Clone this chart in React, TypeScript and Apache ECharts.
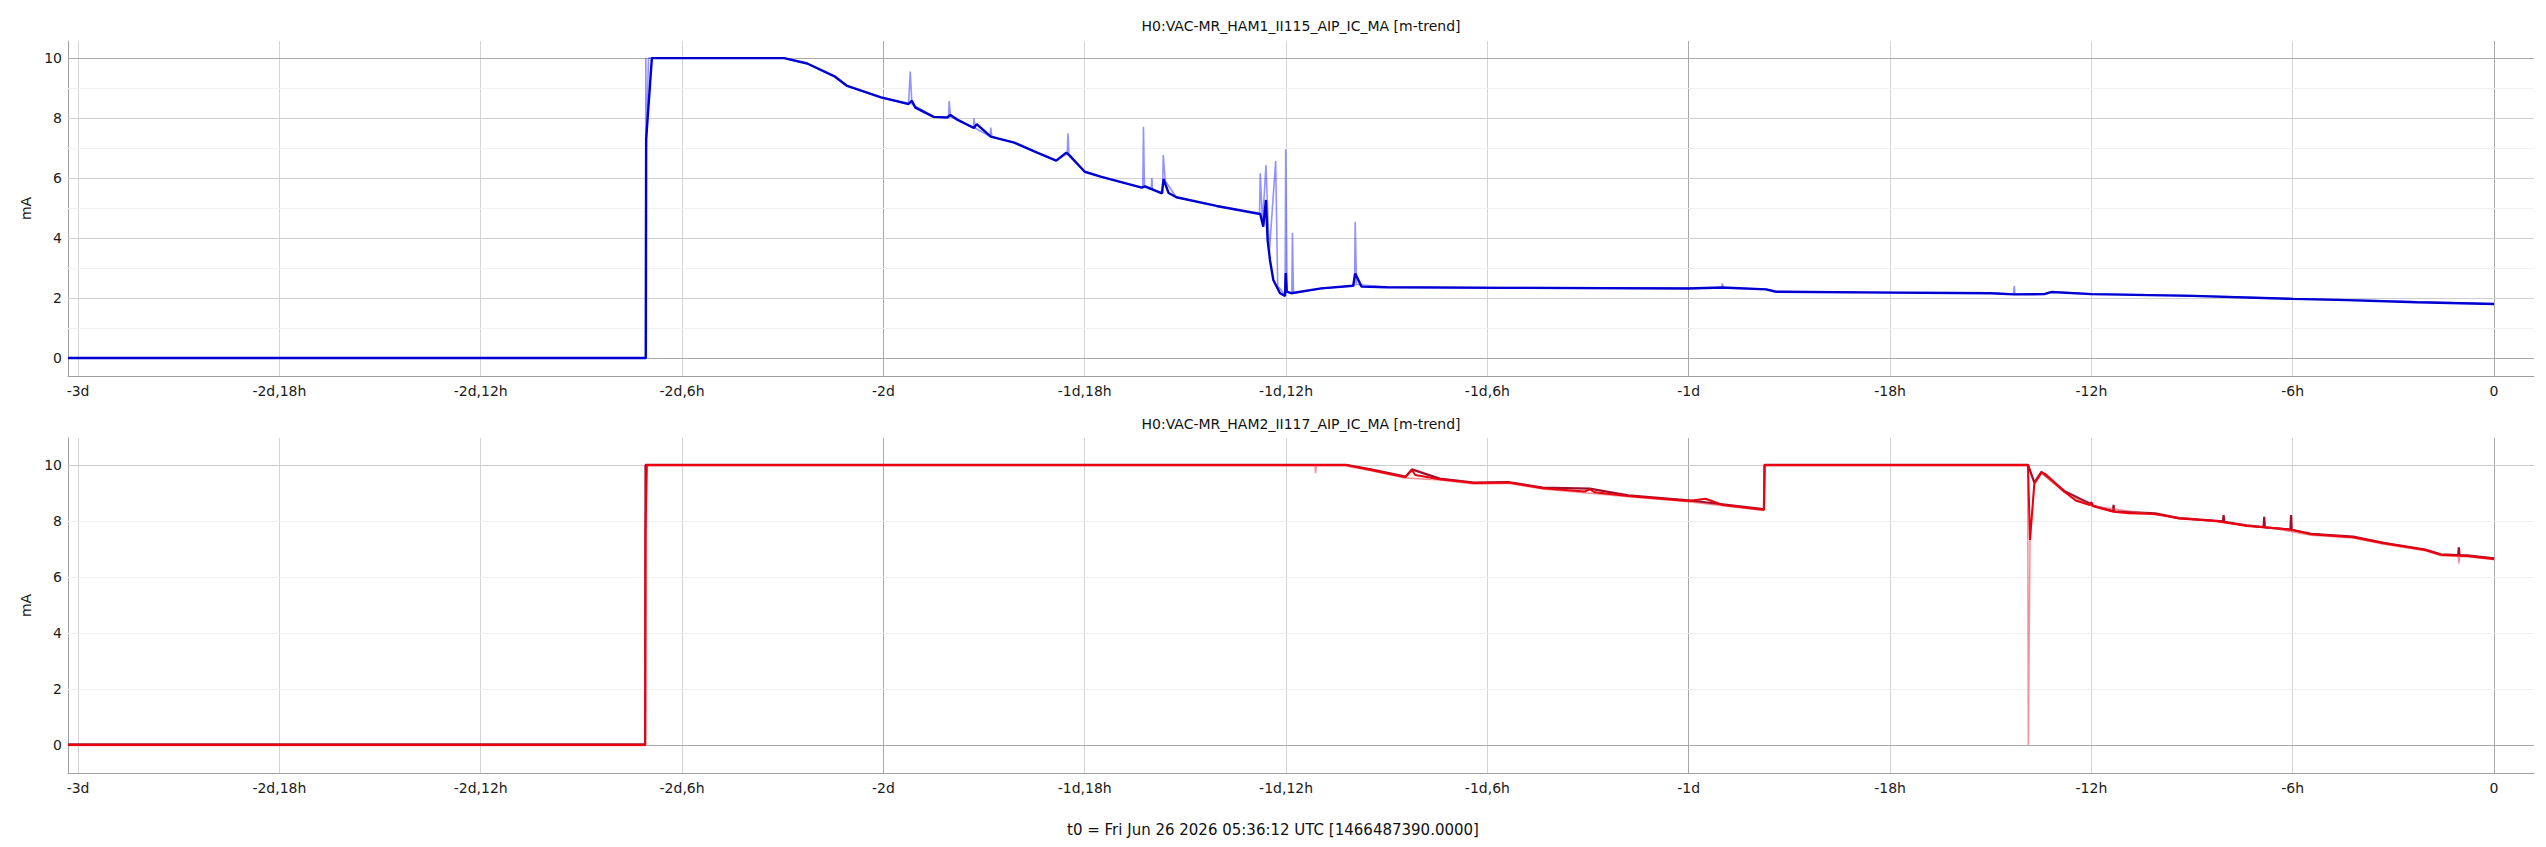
import React, { useEffect, useRef } from "react";
import * as echarts from "echarts";

// ---- data (hours relative to t0, values in mA) ----
const xTickValues = [-72, -66, -60, -54, -48, -42, -36, -30, -24, -18, -12, -6, 0];
const xTickLabels = ["-3d", "-2d,18h", "-2d,12h", "-2d,6h", "-2d", "-1d,18h", "-1d,12h", "-1d,6h", "-1d", "-18h", "-12h", "-6h", "0"];
const dayLines = [-48, -24, 0];
const yTickValues = [0, 2, 4, 6, 8, 10];

const title1 = "H0:VAC-MR_HAM1_II115_AIP_IC_MA [m-trend]";
const title2 = "H0:VAC-MR_HAM2_II117_AIP_IC_MA [m-trend]";
const footer = "t0 = Fri Jun 26 2026 05:36:12 UTC [1466487390.0000]";

const ham1Mean: [number, number][] = [
  [-72.3, 0], [-55.08, 0], [-55.07, 7.3], [-54.95, 9.2], [-54.9, 10], [-50.96, 10],
  [-50.27, 9.82], [-49.44, 9.38], [-49.08, 9.07], [-48.07, 8.69], [-47.25, 8.47],
  [-47.15, 8.58], [-47.05, 8.35], [-46.5, 8.04], [-46.1, 8.02], [-46.0, 8.1],
  [-45.8, 7.95], [-45.3, 7.67], [-45.22, 7.8], [-44.8, 7.38], [-44.1, 7.18],
  [-43.4, 6.84], [-42.85, 6.58], [-42.55, 6.85], [-42.45, 6.75], [-42.0, 6.21],
  [-41.5, 6.04], [-40.3, 5.68], [-40.2, 5.72], [-39.7, 5.49], [-39.65, 5.96],
  [-39.5, 5.5], [-39.27, 5.36], [-38.07, 5.07], [-36.77, 4.8], [-36.68, 4.38],
  [-36.6, 5.27], [-36.55, 3.93], [-36.48, 3.27], [-36.38, 2.6], [-36.18, 2.16],
  [-36.03, 2.07], [-36.01, 2.83], [-35.98, 2.21], [-35.85, 2.16], [-34.95, 2.32],
  [-34.0, 2.41], [-33.94, 2.82], [-33.75, 2.38], [-33.0, 2.36], [-29.6, 2.34],
  [-24, 2.32], [-23.0, 2.35], [-21.7, 2.29], [-21.4, 2.21], [-18, 2.18],
  [-15, 2.16], [-14.3, 2.12], [-13.4, 2.13], [-13.2, 2.2], [-12, 2.13],
  [-9, 2.07], [-6, 1.97], [-4.38, 1.93], [-2.3, 1.86], [0, 1.8],
];

const ham1Max: [number, number][] = [
  [-72.3, 0], [-55.09, 0], [-55.08, 10], [-55.07, 6.8], [-55.0, 10], [-50.96, 10],
  [-50.27, 9.82], [-49.44, 9.38], [-49.08, 9.07], [-48.07, 8.69], [-47.25, 8.47],
  [-47.2, 9.55], [-47.15, 8.47], [-46.5, 8.04], [-46.06, 8.02], [-46.04, 8.57],
  [-46.0, 8.05], [-45.32, 7.67], [-45.3, 7.99], [-45.27, 7.67], [-44.82, 7.38],
  [-44.8, 7.68], [-44.77, 7.38], [-44.1, 7.18], [-43.4, 6.84], [-42.85, 6.58],
  [-42.52, 6.82], [-42.5, 7.49], [-42.47, 6.8], [-42.0, 6.21], [-41.5, 6.04],
  [-40.27, 5.68], [-40.25, 7.71], [-40.22, 5.7], [-40.02, 5.62], [-40.0, 6.0],
  [-39.98, 5.6], [-39.68, 5.5], [-39.66, 6.77], [-39.6, 5.9], [-39.27, 5.36],
  [-38.07, 5.07], [-36.79, 4.8], [-36.77, 6.16], [-36.7, 4.5], [-36.6, 6.43],
  [-36.5, 3.5], [-36.31, 6.57], [-36.25, 2.4], [-36.03, 2.1], [-36.01, 6.96],
  [-35.97, 2.2], [-35.83, 2.16], [-35.81, 4.18], [-35.78, 2.17], [-34.95, 2.32],
  [-33.96, 2.41], [-33.94, 4.54], [-33.9, 2.45], [-33.0, 2.37], [-29.6, 2.35],
  [-24, 2.33], [-23.02, 2.33], [-23.0, 2.49], [-22.97, 2.33], [-21.7, 2.3],
  [-21.4, 2.22], [-18, 2.19], [-15, 2.17], [-14.32, 2.13], [-14.3, 2.4],
  [-14.28, 2.13], [-13.4, 2.14], [-13.2, 2.21], [-12, 2.14], [-9, 2.08],
  [-6, 1.98], [-4.38, 1.94], [-2.3, 1.87], [0, 1.81],
];

const ham2Mean: [number, number][] = [
  [-72.3, 0], [-55.1, 0], [-55.09, 7.57], [-55.05, 10], [-34.22, 10], [-33.47, 9.82],
  [-32.44, 9.56], [-32.25, 9.82], [-32.15, 9.64], [-31.42, 9.49], [-30.4, 9.35],
  [-29.38, 9.37], [-28.35, 9.17], [-27.1, 9.05], [-26.95, 9.13], [-26.8, 9.02],
  [-25.8, 8.89], [-24.01, 8.71], [-23.5, 8.79], [-22.99, 8.57], [-21.84, 8.41],
  [-21.76, 8.4], [-21.74, 10], [-13.89, 10], [-13.83, 7.32], [-13.7, 9.35],
  [-13.49, 9.73], [-13.38, 9.68], [-12.81, 9.05], [-12.47, 8.73], [-12.05, 8.57],
  [-12.0, 8.66], [-11.95, 8.52], [-11.34, 8.33], [-10.89, 8.27], [-10.1, 8.25],
  [-9.42, 8.09], [-8.28, 8.0], [-7.37, 7.82], [-6.47, 7.74], [-6.01, 7.68],
  [-5.45, 7.52], [-4.2, 7.42], [-3.29, 7.2], [-2.05, 6.96], [-1.59, 6.79],
  [-0.8, 6.75], [0, 6.64],
];

const ham2Max: [number, number][] = [
  [-72.3, 0.02], [-55.1, 0.02], [-55.09, 10], [-34.22, 10], [-33.47, 9.84],
  [-32.44, 9.58], [-32.25, 9.84], [-31.42, 9.51], [-30.4, 9.37], [-29.38, 9.39],
  [-28.35, 9.19], [-26.95, 9.15], [-25.8, 8.91], [-24.01, 8.73], [-22.99, 8.59],
  [-21.84, 8.43], [-21.76, 8.42], [-21.74, 10], [-13.89, 10], [-13.7, 9.37],
  [-13.49, 9.75], [-12.81, 9.07], [-12.02, 8.6], [-12.0, 8.67], [-11.98, 8.56],
  [-11.36, 8.35], [-11.34, 8.57], [-11.32, 8.34], [-10.1, 8.27], [-9.42, 8.11],
  [-8.08, 7.98], [-8.06, 8.21], [-8.04, 7.97], [-7.37, 7.84], [-6.87, 7.78],
  [-6.85, 8.15], [-6.83, 7.77], [-6.07, 7.69], [-6.05, 8.21], [-6.03, 7.68],
  [-5.45, 7.54], [-4.2, 7.44], [-3.29, 7.22], [-2.05, 6.98], [-1.59, 6.81],
  [-1.07, 6.78], [-1.05, 7.06], [-1.03, 6.77], [-0.8, 6.77], [0, 6.66],
];

const ham2Min: [number, number][] = [
  [-72.3, -0.02], [-55.1, -0.02], [-55.09, 7.4], [-55.05, 9.96], [-35.14, 9.96],
  [-35.12, 9.7], [-35.1, 9.96], [-34.22, 9.96], [-33.47, 9.79], [-32.44, 9.53],
  [-31.42, 9.46], [-30.4, 9.32], [-29.38, 9.34], [-28.35, 9.14], [-25.8, 8.86],
  [-24.01, 8.68], [-22.99, 8.54], [-21.84, 8.38], [-21.76, 8.37], [-21.74, 9.96],
  [-13.9, 9.96], [-13.88, 0], [-13.83, 7.3], [-13.7, 9.3], [-13.49, 9.7],
  [-12.81, 9.02], [-12.0, 8.54], [-10.1, 8.22], [-8.28, 7.97], [-6.47, 7.71],
  [-5.45, 7.49], [-4.2, 7.39], [-3.29, 7.17], [-2.05, 6.93], [-1.59, 6.76],
  [-1.07, 6.73], [-1.05, 6.48], [-1.03, 6.72], [-0.8, 6.72], [0, 6.61],
];

// ---- styling ----
const FONT = "DejaVu Sans, Liberation Sans, sans-serif";
const W = 2546;
const H = 847;
const PLOT_LEFT = 68;
const PLOT_RIGHT = 12;
const PLOT_H = 335;
const TOP1 = 41;
const TOP2 = 438;
const X_MIN = -72.3;
const X_MAX = 1.19;

function vGrid() {
  return xTickValues.map((v) => ({
    xAxis: v,
    lineStyle: { color: dayLines.includes(v) ? "#a9a9a9" : "#d4d4d4", width: 1, type: "solid" },
  }));
}

function hGrid(items: { v: number; c: string }[]) {
  return items.map((it) => ({ yAxis: it.v, lineStyle: { color: it.c, width: 1, type: "solid" } }));
}

const topHLines = [
  { v: 0, c: "#a9a9a9" }, { v: 10, c: "#a9a9a9" },
  { v: 2, c: "#cfcfcf" }, { v: 4, c: "#cfcfcf" }, { v: 6, c: "#cfcfcf" }, { v: 8, c: "#cfcfcf" },
  { v: 1, c: "#f0f0f0" }, { v: 3, c: "#f0f0f0" }, { v: 5, c: "#f0f0f0" }, { v: 7, c: "#f0f0f0" }, { v: 9, c: "#f0f0f0" },
];
const botHLines = [
  { v: 0, c: "#a9a9a9" }, { v: 10, c: "#cbcbcb" },
  { v: 2, c: "#efefef" }, { v: 4, c: "#efefef" }, { v: 6, c: "#efefef" }, { v: 8, c: "#efefef" },
];

function gridSeries(idx: number, hl: { v: number; c: string }[]) {
  return {
    type: "line",
    xAxisIndex: idx,
    yAxisIndex: idx,
    data: [],
    z: 1,
    silent: true,
    markLine: {
      silent: true,
      z: 1,
      animation: false,
      symbol: ["none", "none"],
      label: { show: false },
      emphasis: { disabled: true },
      data: [...vGrid(), ...hGrid(hl)],
    },
  };
}

function xAxisCfg(idx: number) {
  return {
    type: "value",
    gridIndex: idx,
    min: X_MIN,
    max: X_MAX,
    axisLine: { show: true, onZero: false, lineStyle: { color: "#a0a0a0", width: 1 } },
    axisTick: { show: false },
    splitLine: { show: false },
    axisLabel: {
      customValues: xTickValues,
      formatter: (v: number) => {
        const i = xTickValues.indexOf(Math.round(v));
        return i >= 0 ? xTickLabels[i] : "";
      },
      color: "#1a1a1a",
      fontFamily: FONT,
      fontSize: 14,
      margin: 8,
    },
  };
}

function yAxisCfg(idx: number, min: number, max: number) {
  return {
    type: "value",
    gridIndex: idx,
    min,
    max,
    name: "mA",
    nameLocation: "middle",
    nameGap: 34,
    nameRotate: 90,
    nameTextStyle: { color: "#1a1a1a", fontFamily: FONT, fontSize: 14 },
    axisLine: { show: true, onZero: false, lineStyle: { color: "#a0a0a0", width: 1 } },
    axisTick: { show: false },
    splitLine: { show: false },
    axisLabel: {
      customValues: yTickValues,
      color: "#1a1a1a",
      fontFamily: FONT,
      fontSize: 14,
      margin: 6,
    },
  };
}

function lineSeries(idx: number, data: [number, number][], color: string, width: number, z: number) {
  return {
    type: "line",
    xAxisIndex: idx,
    yAxisIndex: idx,
    data,
    showSymbol: false,
    symbol: "none",
    silent: true,
    z,
    lineStyle: { color, width },
    emphasis: { disabled: true },
  };
}

export default function App() {
  const ref = useRef<HTMLDivElement>(null);
  useEffect(() => {
    document.body.style.margin = "0";
    if (!ref.current) return;
    const chart = echarts.init(ref.current, null, { renderer: "svg", width: W, height: H });
    const option: any = {
      animation: false,
      backgroundColor: "#ffffff",
      grid: [
        { left: PLOT_LEFT, right: PLOT_RIGHT, top: TOP1, height: PLOT_H },
        { left: PLOT_LEFT, right: PLOT_RIGHT, top: TOP2, height: PLOT_H },
      ],
      xAxis: [xAxisCfg(0), xAxisCfg(1)],
      yAxis: [yAxisCfg(0, -0.6, 10.57), yAxisCfg(1, -1.0, 10.96)],
      series: [
        gridSeries(0, topHLines),
        gridSeries(1, botHLines),
        lineSeries(0, ham1Max, "rgba(40,40,255,0.5)", 1.6, 3),
        lineSeries(0, ham1Mean, "#0000d2", 2.4, 4),
        lineSeries(1, ham2Max, "#a0102c", 2.2, 3),
        lineSeries(1, ham2Min, "rgba(240,70,80,0.6)", 1.5, 3),
        lineSeries(1, ham2Mean, "#ec0010", 2, 4),
      ],
      graphic: [
        {
          type: "text",
          x: (PLOT_LEFT + (W - PLOT_RIGHT)) / 2,
          y: 26,
          style: { text: title1, fill: "#111", font: `14px ${FONT}`, textAlign: "center", textVerticalAlign: "middle" },
        },
        {
          type: "text",
          x: (PLOT_LEFT + (W - PLOT_RIGHT)) / 2,
          y: 424,
          style: { text: title2, fill: "#111", font: `14px ${FONT}`, textAlign: "center", textVerticalAlign: "middle" },
        },
        {
          type: "text",
          x: W / 2,
          y: 830,
          style: { text: footer, fill: "#111", font: `15px ${FONT}`, textAlign: "center", textVerticalAlign: "middle" },
        },
      ],
    };
    chart.setOption(option);
    return () => chart.dispose();
  }, []);
  return <div ref={ref} style={{ width: W, height: H, position: "absolute", left: 0, top: 0 }} />;
}
